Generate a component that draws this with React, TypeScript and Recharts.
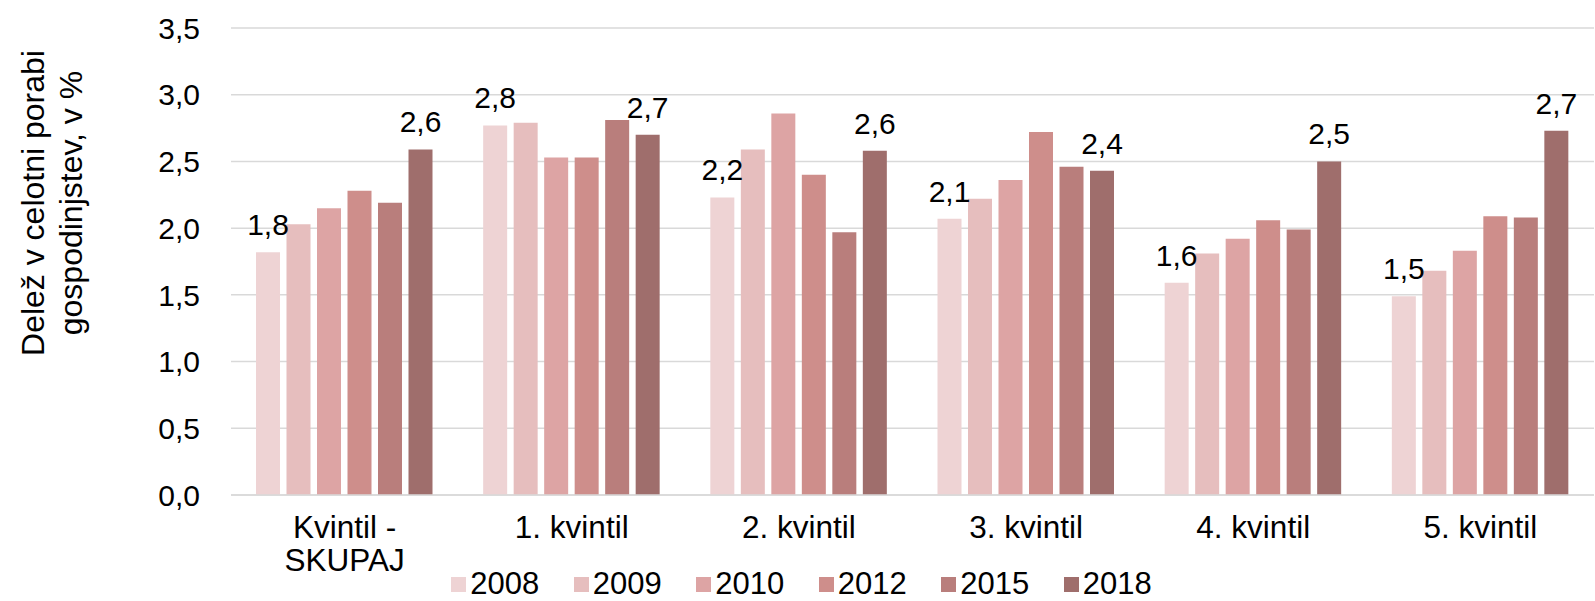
import React from 'react';
import { BarChart, Bar, XAxis, YAxis, CartesianGrid, Legend, LabelList } from 'recharts';

const categories = ['Kvintil - SKUPAJ', '1. kvintil', '2. kvintil', '3. kvintil', '4. kvintil', '5. kvintil'];
const years = ['2008', '2009', '2010', '2012', '2015', '2018'];

const v2008 = [1.82, 2.77, 2.23, 2.07, 1.59, 1.49];
const v2009 = [2.03, 2.79, 2.59, 2.22, 1.81, 1.68];
const v2010 = [2.15, 2.53, 2.86, 2.36, 1.92, 1.83];
const v2012 = [2.28, 2.53, 2.4, 2.72, 2.06, 2.09];
const v2015 = [2.19, 2.81, 1.97, 2.46, 1.99, 2.08];
const v2018 = [2.59, 2.7, 2.58, 2.43, 2.5, 2.73];

const yTicks = [0, 0.5, 1, 1.5, 2, 2.5, 3, 3.5];
const colors = ['#eed3d4', '#e6bebe', '#dda4a4', '#ce8e8b', '#b97e7c', '#9f6e6c'];

const series = [v2008, v2009, v2010, v2012, v2015, v2018];

const chartData = categories.map((name, i) => {
  const row: Record<string, string | number> = { name };
  years.forEach((y, j) => {
    row[y] = series[j][i];
  });
  return row;
});

const FONT = '"Liberation Sans", Arial, sans-serif';
const fmt = (v: number) => v.toFixed(1).replace('.', ',');

// greedy wrap by character count, good enough for these short labels
const wrap = (s: string, maxChars: number) => {
  const lines: string[] = [];
  let cur = '';
  s.split(' ').forEach(w => {
    const next = cur ? cur + ' ' + w : w;
    if (next.length > maxChars && cur) {
      lines.push(cur);
      cur = w;
    } else {
      cur = next;
    }
  });
  if (cur) lines.push(cur);
  return lines;
};

const CategoryTick = (props: any) => {
  const { x, y, payload } = props;
  const lines = wrap(String(payload.value), 12);
  return (
    <text x={x} y={y} textAnchor="middle" fontSize={31.5} fontFamily={FONT} fill="#000">
      {lines.map((l, i) => (
        <tspan key={i} x={x} dy={i === 0 ? 43 : 33}>
          {l}
        </tspan>
      ))}
    </text>
  );
};

const LegendContent = () => (
  <div
    style={{
      display: 'flex',
      justifyContent: 'center',
      gap: 34.5,
      paddingLeft: 8,
      fontFamily: FONT,
      fontSize: 31,
      color: '#000',
    }}
  >
    {years.map((y, i) => (
      <div key={y} style={{ display: 'flex', alignItems: 'center' }}>
        <span style={{ width: 15, height: 15, background: colors[i], marginRight: 4, display: 'inline-block' }} />
        <span style={{ lineHeight: '22px' }}>{y}</span>
      </div>
    ))}
  </div>
);

const AxisTitle = () => (
  <g fontSize={32} fontFamily={FONT} fill="#000">
    <text transform="rotate(-90, 33, 203)" x={33} y={203} textAnchor="middle" dominantBaseline="central">
      Delež v celotni porabi
    </text>
    <text transform="rotate(-90, 71, 203)" x={71} y={203} textAnchor="middle" dominantBaseline="central">
      gospodinjstev, v %
    </text>
  </g>
);

const App = () => {
  return (
    <div style={{ position: 'absolute', left: 0, top: 0, width: 1595, height: 601, background: '#fff', fontFamily: FONT }}>
      <BarChart
        width={1595}
        height={601}
        data={chartData}
        margin={{ top: 28, right: 1, left: 0, bottom: 0 }}
        barCategoryGap={25}
        barGap={6.5}
      >
        <CartesianGrid vertical={false} stroke="#d9d9d9" strokeWidth={1.5} />
        <XAxis
          dataKey="name"
          height={106}
          tickLine={false}
          tickSize={0}
          tickMargin={0}
          axisLine={{ stroke: '#d9d9d9', strokeWidth: 1.5 }}
          tick={<CategoryTick />}
          interval={0}
        />
        <YAxis
          width={231}
          domain={[0, 3.5]}
          ticks={yTicks}
          tickFormatter={fmt}
          axisLine={false}
          tickLine={false}
          tickSize={0}
          tickMargin={31}
          tick={{ fontSize: 30, fontFamily: FONT, fill: '#000' }}
          label={{ content: () => <AxisTitle /> }}
        />
        <Legend
          layout="horizontal"
          verticalAlign="middle"
          wrapperStyle={{ top: 573, left: 0, width: 1595 }}
          content={<LegendContent />}
        />
        {years.map((y, i) => (
          <Bar key={y} dataKey={y} fill={colors[i]} isAnimationActive={false}>
            {(i === 0 || i === years.length - 1) && (
              <LabelList
                dataKey={y}
                position="top"
                offset={17}
                formatter={(v: any) => fmt(Number(v))}
                style={{ fontSize: 30, fontFamily: FONT, fill: '#000' }}
              />
            )}
          </Bar>
        ))}
      </BarChart>
    </div>
  );
};

export default App;
